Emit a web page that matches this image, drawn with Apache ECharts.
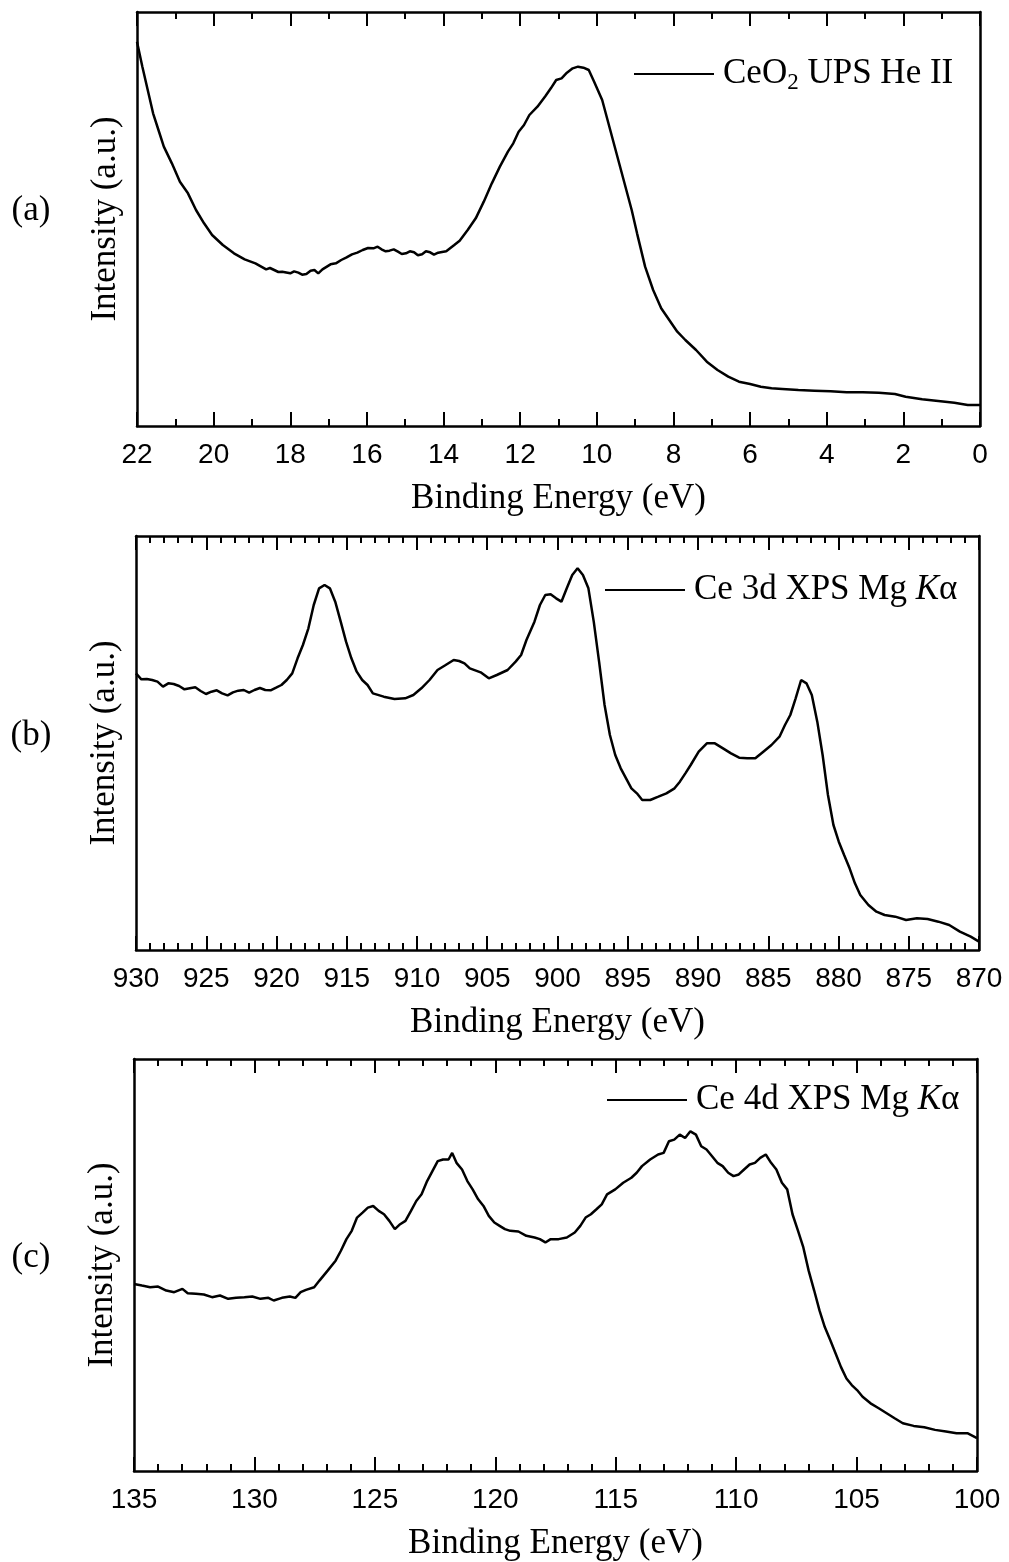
<!DOCTYPE html>
<html>
<head>
<meta charset="utf-8">
<script src="https://cdn.jsdelivr.net/npm/echarts@6/dist/echarts.min.js"></script>
<style>
  html, body { margin: 0; padding: 0; background: #fff; }
  #chart { width: 1009px; height: 1562px; }
</style>
</head>
<body>
<div id="chart"></div>
<script>
// (a) CeO2 UPS He II
var upsEnergy = [22.00, 21.86, 21.72, 21.58, 21.44, 21.30, 21.09, 20.88, 20.67, 20.46, 20.25, 20.04,
  19.76, 19.47, 19.19, 18.91, 18.63, 18.53, 18.42, 18.31, 18.21, 18.00, 17.90, 17.79, 17.69, 17.58,
  17.47, 17.37, 17.27, 17.16, 16.95, 16.81, 16.67, 16.53, 16.39, 16.25, 16.11, 15.97, 15.83, 15.72,
  15.62, 15.51, 15.41, 15.30, 15.19, 15.09, 14.98, 14.88, 14.77, 14.67, 14.56, 14.46, 14.35, 14.25,
  14.14, 14.04, 13.93, 13.72, 13.58, 13.37, 13.16, 12.95, 12.74, 12.53, 12.32, 12.18, 12.04, 11.90,
  11.76, 11.55, 11.34, 11.20, 11.06, 10.92, 10.78, 10.63, 10.49, 10.35, 10.21, 10.07, 9.86, 9.65,
  9.44, 9.23, 9.09, 8.95, 8.74, 8.53, 8.32, 8.11, 7.90, 7.69, 7.41, 7.13, 6.85, 6.57, 6.29, 6.00,
  5.72, 5.44, 5.16, 4.74, 4.32, 3.90, 3.48, 3.06, 2.64, 2.22, 1.94, 1.51, 1.09, 0.67, 0.32, 0.00];
var upsIntensity = [1153, 1078, 1008, 938, 888, 838, 788, 733, 698, 648, 608, 573,
  543, 518, 500, 488, 470, 474, 468, 462, 463, 458, 464, 460, 454, 456,
  466, 468, 458, 470, 485, 488, 498, 506, 515, 520, 528, 534, 533, 538,
  530, 524, 526, 530, 523, 516, 518, 524, 521, 512, 515, 524, 521, 514,
  520, 522, 524, 543, 556, 588, 623, 673, 728, 778, 823, 848, 883, 903,
  933, 958, 990, 1013, 1038, 1043, 1060, 1073, 1078, 1075, 1068, 1033, 978, 888,
  798, 708, 648, 578, 478, 408, 353, 318, 283, 258, 228, 193, 168, 148, 133, 126,
  118, 113, 111, 108, 106, 104, 101, 101, 100, 96, 88, 80, 75, 70, 63, 63];

// (b) Ce 3d XPS Mg Ka
var ce3dEnergy = [930.00, 929.62, 929.23, 928.85, 928.47, 928.08, 927.70, 927.32, 926.93, 926.55,
  926.17, 925.78, 925.40, 925.02, 924.63, 924.25, 923.87, 923.48, 923.10, 922.72, 922.33, 921.95,
  921.57, 921.18, 920.80, 920.42, 920.03, 919.65, 919.27, 918.88, 918.50, 918.12, 917.73, 917.35,
  916.97, 916.58, 916.20, 915.82, 915.43, 915.05, 914.67, 914.29, 913.90, 913.52, 913.14, 912.37,
  911.60, 910.84, 910.26, 909.69, 909.11, 908.54, 907.96, 907.39, 907.00, 906.62, 906.24, 905.47,
  904.89, 904.32, 903.55, 902.98, 902.59, 902.21, 901.64, 901.25, 900.87, 900.49, 900.10, 899.72,
  899.34, 898.95, 898.57, 898.19, 897.80, 897.42, 897.04, 896.65, 896.27, 895.89, 895.50, 895.12,
  894.74, 894.35, 893.97, 893.40, 892.82, 892.25, 891.67, 891.29, 890.90, 890.52, 889.95, 889.37,
  888.80, 888.22, 887.65, 887.07, 886.50, 885.92, 885.35, 884.77, 884.20, 883.81, 883.43, 883.05,
  882.66, 882.28, 881.90, 881.51, 881.13, 880.75, 880.36, 879.98, 879.60, 879.21, 878.83, 878.45,
  877.87, 877.30, 876.72, 875.96, 875.19, 874.42, 873.66, 872.89, 872.12, 871.36, 870.59, 870.00];
var ce3dIntensity = [830, 812, 813, 810, 805, 790, 800, 798, 792, 782,
  785, 788, 777, 768, 775, 779, 770, 764, 773, 778, 780, 772,
  780, 786, 780, 779, 787, 795, 810, 830, 875, 915, 965, 1035,
  1085, 1095, 1085, 1045, 985, 925, 875, 835, 810, 795, 770, 760,
  753, 755, 765, 785, 810, 840, 855, 870, 867, 860, 845, 833,
  815, 825, 840, 865, 885, 930, 985, 1035, 1065, 1067, 1055, 1045,
  1085, 1125, 1145, 1125, 1085, 985, 865, 735, 645, 585, 545, 515,
  485, 470, 450, 450, 460, 470, 485, 505, 530, 555, 595, 620,
  620, 605, 590, 577, 575, 575, 595, 615, 640, 675, 705, 755,
  810, 800, 765, 685, 585, 465, 375, 325, 285, 245, 200, 165,
  135, 115, 105, 100, 90, 95, 93, 85, 75, 55, 40, 25];

// (c) Ce 4d XPS Mg Ka
var ce4dEnergy = [135.00, 134.67, 134.33, 134.00, 133.66, 133.33, 132.99, 132.77, 132.43, 132.10,
  131.76, 131.43, 131.09, 130.76, 130.42, 130.09, 129.75, 129.42, 129.20, 128.86, 128.53, 128.30,
  128.08, 127.86, 127.52, 127.30, 126.96, 126.63, 126.41, 126.18, 125.96, 125.74, 125.51, 125.29,
  125.07, 124.84, 124.62, 124.40, 124.17, 123.95, 123.73, 123.50, 123.28, 123.06, 122.83, 122.61,
  122.39, 122.17, 121.94, 121.79, 121.61, 121.38, 121.16, 120.94, 120.71, 120.49, 120.27, 120.04,
  119.82, 119.60, 119.38, 119.04, 118.71, 118.37, 118.15, 117.92, 117.70, 117.37, 117.03, 116.70,
  116.47, 116.25, 116.03, 115.80, 115.58, 115.36, 115.02, 114.69, 114.35, 114.13, 113.91, 113.57,
  113.24, 113.01, 112.79, 112.57, 112.34, 112.12, 111.90, 111.67, 111.45, 111.23, 111.00, 110.78,
  110.56, 110.33, 110.11, 109.89, 109.67, 109.44, 109.22, 109.00, 108.77, 108.55, 108.33, 108.10,
  107.88, 107.66, 107.43, 107.21, 106.99, 106.76, 106.54, 106.32, 106.09, 105.87, 105.65, 105.42,
  105.20, 104.98, 104.75, 104.42, 104.08, 103.75, 103.42, 103.08, 102.63, 102.19, 101.74, 101.29,
  100.85, 100.40, 100.00];
var ce4dIntensity = [564, 559, 554, 556, 544, 539, 549, 536, 534, 532,
  524, 529, 519, 522, 524, 526, 519, 522, 514, 522, 526, 522,
  539, 546, 554, 574, 604, 634, 664, 699, 724, 764, 779, 794,
  799, 784, 774, 754, 729, 744, 754, 784, 814, 834, 874, 904,
  934, 939, 939, 959, 929, 909, 874, 849, 819, 799, 769, 749,
  739, 729, 724, 722, 709, 704, 699, 689, 699, 699, 704, 719,
  739, 764, 774, 789, 804, 834, 849, 869, 884, 899, 919, 939,
  954, 959, 994, 999, 1014, 1004, 1024, 1014, 979, 969, 949, 929,
  919, 899, 889, 894, 909, 924, 929, 944, 954, 929, 909, 869,
  849, 774, 724, 674, 604, 544, 484, 434, 394, 354, 314, 279,
  259, 244, 224, 204, 189, 174, 159, 144, 136, 132, 124, 119,
  114, 114, 99];

var seriesNames = ['CeO2 UPS He II', 'Ce 3d XPS Mg K\u03b1', 'Ce 4d XPS Mg K\u03b1'];
var legendLabels = ['CeO{sub|2} UPS He II', 'Ce 3d XPS Mg {it|K}\u03b1', 'Ce 4d XPS Mg {it|K}\u03b1'];
var panelLabels = ['(a)', '(b)', '(c)'];
var xTitle = 'Binding Energy (eV)';
var yTitle = 'Intensity (a.u.)';

var serif = "'Liberation Serif', 'Times New Roman', serif";
var sans = "'Liberation Sans', Arial, sans-serif";

function pairs(xs, ys) {
  return xs.map(function (x, i) { return [x, ys[i]]; });
}

var grids = [
  { left: 137, right: 29, top: 12, height: 414 },
  { left: 136, right: 30, top: 536, height: 414 },
  { left: 134, right: 32, top: 1059, height: 414 }
];
var ranges = [
  { min: 0, max: 22, interval: 2, minor: 2 },
  { min: 870, max: 930, interval: 5, minor: 5 },
  { min: 100, max: 135, interval: 5, minor: 5 }
];

function energyAxis(i, r, pos) {
  var ax = {
    type: 'value', gridIndex: i, inverse: true, position: pos,
    min: r.min, max: r.max, interval: r.interval,
    axisLine: { show: true, onZero: false, lineStyle: { color: '#000', width: 2.5 } },
    axisTick: { show: true, inside: true, length: 14, lineStyle: { color: '#000', width: 2 } },
    minorTick: { show: true, splitNumber: r.minor, length: 7, lineStyle: { color: '#000', width: 2 } },
    splitLine: { show: false },
    minorSplitLine: { show: false },
    axisLabel: { show: false }
  };
  if (pos === 'bottom') {
    ax.name = xTitle;
    ax.nameLocation = 'middle';
    ax.nameGap = 55;
    ax.nameTextStyle = { fontFamily: serif, fontSize: 35, color: '#000' };
    ax.axisLabel = { show: true, margin: 15, fontFamily: sans, fontSize: 28, color: '#000',
      showMinLabel: true, showMaxLabel: true };
  }
  return ax;
}

function intensityAxis(i, pos) {
  var ax = {
    type: 'value', gridIndex: i, min: 0, max: 1242, position: pos,
    axisLine: { show: true, onZero: false, lineStyle: { color: '#000', width: 2.5 } },
    axisTick: { show: false },
    axisLabel: { show: false },
    splitLine: { show: false }
  };
  if (pos === 'left') {
    ax.name = yTitle;
    ax.nameLocation = 'middle';
    ax.nameGap = 14;
    ax.nameTextStyle = { fontFamily: serif, fontSize: 35, color: '#000' };
  }
  return ax;
}

var xAxes = [], yAxes = [];
ranges.forEach(function (r, i) {
  xAxes.push(energyAxis(i, r, 'bottom'));
  yAxes.push(intensityAxis(i, 'left'));
});
ranges.forEach(function (r, i) {
  xAxes.push(energyAxis(i, r, 'top'));
  yAxes.push(intensityAxis(i, 'right'));
});

var datasets = [pairs(upsEnergy, upsIntensity), pairs(ce3dEnergy, ce3dIntensity), pairs(ce4dEnergy, ce4dIntensity)];
var series = datasets.map(function (d, i) {
  return {
    name: seriesNames[i], type: 'line',
    xAxisIndex: i, yAxisIndex: i,
    data: d, showSymbol: false, symbol: 'none',
    lineStyle: { color: '#000', width: 2.5 },
    itemStyle: { color: '#000' },
    animation: false
  };
});

var legendPos = [
  { left: 634, top: 54 },
  { left: 605, top: 570 },
  { left: 607, top: 1080 }
];
var legends = legendPos.map(function (p, i) {
  return {
    left: p.left, top: p.top, padding: 0,
    data: [seriesNames[i]],
    icon: 'rect', itemWidth: 80, itemHeight: 2,
    selectedMode: false,
    formatter: function (name) { return legendLabels[seriesNames.indexOf(name)]; },
    textStyle: {
      fontFamily: serif, fontSize: 35, lineHeight: 40, color: '#000', padding: [0, 0, 0, 4],
      rich: {
        sub: { fontFamily: serif, fontSize: 23, color: '#000', verticalAlign: 'bottom', lineHeight: 2 },
        it: { fontFamily: serif, fontSize: 35, color: '#000', fontStyle: 'italic' }
      }
    }
  };
});

var labelY = [211, 736, 1258];
var graphics = panelLabels.map(function (t, i) {
  return {
    type: 'text', x: 31, y: labelY[i],
    style: { text: t, fontFamily: serif, fontSize: 35, fill: '#000', align: 'center', verticalAlign: 'middle' }
  };
});

var myChart = echarts.init(document.getElementById('chart'), null, { renderer: 'canvas' });
myChart.setOption({
  animation: false,
  backgroundColor: '#fff',
  grid: grids,
  xAxis: xAxes,
  yAxis: yAxes,
  legend: legends,
  graphic: graphics,
  series: series
});
</script>
</body>
</html>
